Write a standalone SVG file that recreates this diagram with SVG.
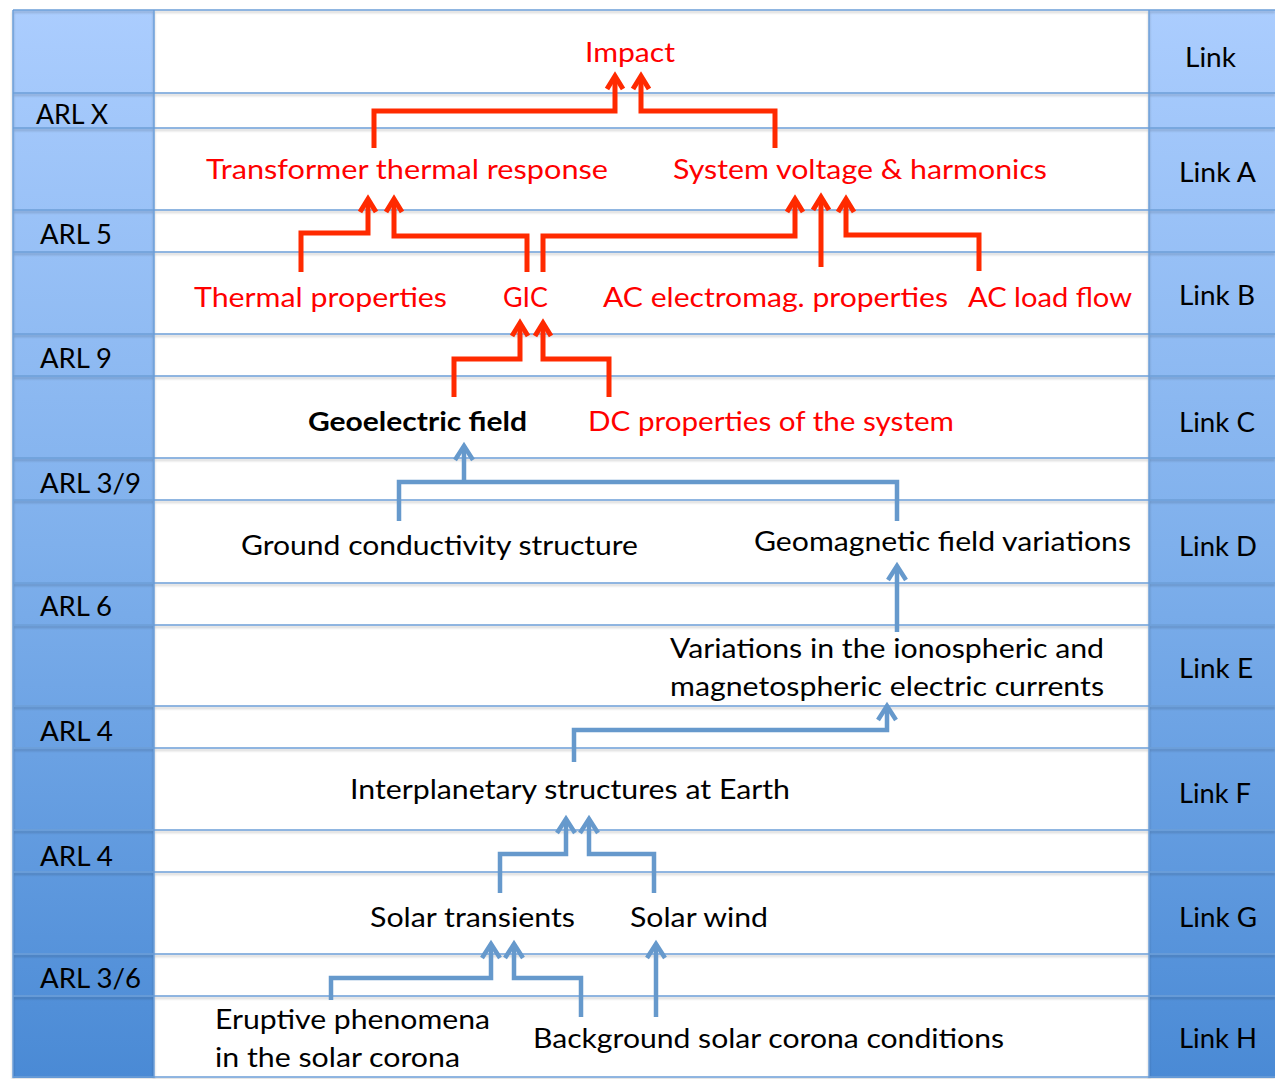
<svg xmlns="http://www.w3.org/2000/svg" width="1275" height="1079" viewBox="0 0 1275 1079">
<defs>
<linearGradient id="colgrad" x1="0" y1="0" x2="0" y2="1">
<stop offset="0" stop-color="#abcdfe"/>
<stop offset="0.5" stop-color="#7fb0ec"/>
<stop offset="1" stop-color="#4a8ad5"/>
</linearGradient>
<filter id="shadow" x="-5%" y="-5%" width="110%" height="110%">
<feDropShadow dx="0" dy="2" stdDeviation="1" flood-color="#000" flood-opacity="0.22"/>
</filter>
<marker id="arrR" viewBox="-18 -14 24 28" markerWidth="24" markerHeight="28" refX="0" refY="0" orient="auto" markerUnits="userSpaceOnUse">
<path d="M-13,-8 L0,0 L-13,8" fill="none" stroke="#ff2a00" stroke-width="5"/>
</marker>
<marker id="arrB" viewBox="-18 -14 24 28" markerWidth="24" markerHeight="28" refX="0" refY="0" orient="auto" markerUnits="userSpaceOnUse">
<path d="M-14,-9 L0,0 L-14,9" fill="none" stroke="#6699cc" stroke-width="4.5"/>
</marker>
</defs>
<style>
text{font-family:Lato,"Open Sans","Liberation Sans",sans-serif;font-size:27px;lengthAdjust:spacingAndGlyphs}
.k{fill:#000}
.r{fill:#ff0000}
.b{font-weight:bold}
.grid{stroke:#6e9fd8;stroke-width:1.5;fill:none}
.red{stroke:#ff2a00;stroke-width:5;fill:none;marker-end:url(#arrR)}
.redn{stroke:#ff2a00;stroke-width:5;fill:none}
.blue{stroke:#6699cc;stroke-width:4.5;fill:none;marker-end:url(#arrB)}
.bluen{stroke:#6699cc;stroke-width:4.5;fill:none}
</style>
<rect x="0" y="0" width="1275" height="1079" fill="#ffffff"/>
<g id="table">
<rect x="13" y="10" width="141" height="1068" fill="url(#colgrad)"/>
<rect x="1149" y="10" width="127" height="1068" fill="url(#colgrad)"/>
<g filter="url(#shadow)">
<path class="grid" d="M13,10H1275 M13,93H1275 M13,128H1275 M13,210H1275 M13,252H1275 M13,334H1275 M13,376H1275 M13,458H1275 M13,500H1275 M13,583H1275 M13,625H1275 M13,706H1275 M13,748H1275 M13,830H1275 M13,872H1275 M13,954H1275 M13,996H1275 M13,1077H1275"/>
<path class="grid" d="M13,10V1078 M154,10V1078 M1149,10V1078"/>
</g>
</g>
<g id="row-labels">
<text class="k" x="36" y="124" textLength="72" lengthAdjust="spacingAndGlyphs">ARL X</text>
<text class="k" x="40" y="244" textLength="72" lengthAdjust="spacingAndGlyphs">ARL 5</text>
<text class="k" x="40" y="368" textLength="72" lengthAdjust="spacingAndGlyphs">ARL 9</text>
<text class="k" x="40" y="493" textLength="101" lengthAdjust="spacingAndGlyphs">ARL 3/9</text>
<text class="k" x="40" y="616" textLength="72" lengthAdjust="spacingAndGlyphs">ARL 6</text>
<text class="k" x="40" y="741" textLength="73" lengthAdjust="spacingAndGlyphs">ARL 4</text>
<text class="k" x="40" y="866" textLength="73" lengthAdjust="spacingAndGlyphs">ARL 4</text>
<text class="k" x="40" y="988" textLength="101" lengthAdjust="spacingAndGlyphs">ARL 3/6</text>
</g>
<g id="link-labels">
<text class="k" x="1185" y="67" textLength="51" lengthAdjust="spacingAndGlyphs">Link</text>
<text class="k" x="1179" y="182" textLength="77" lengthAdjust="spacingAndGlyphs">Link A</text>
<text class="k" x="1179" y="305" textLength="76" lengthAdjust="spacingAndGlyphs">Link B</text>
<text class="k" x="1179" y="432" textLength="76" lengthAdjust="spacingAndGlyphs">Link C</text>
<text class="k" x="1179" y="556" textLength="78" lengthAdjust="spacingAndGlyphs">Link D</text>
<text class="k" x="1179" y="678" textLength="74" lengthAdjust="spacingAndGlyphs">Link E</text>
<text class="k" x="1179" y="803" textLength="72" lengthAdjust="spacingAndGlyphs">Link F</text>
<text class="k" x="1179" y="927" textLength="78" lengthAdjust="spacingAndGlyphs">Link G</text>
<text class="k" x="1179" y="1048" textLength="78" lengthAdjust="spacingAndGlyphs">Link H</text>
</g>
<g id="connectors">
<path class="red" d="M374,148V111H615V76"/>
<path class="red" d="M775,148V111H641V76"/>
<path class="red" d="M301,272V233H368V199"/>
<path class="red" d="M527,272V236H394V199"/>
<path class="red" d="M543,272V236H795V199"/>
<path class="red" d="M821,267V197"/>
<path class="red" d="M979,271V235H846V199"/>
<path class="red" d="M454,397V359H520V323"/>
<path class="red" d="M609,397V359H543V323"/>
<path class="bluen" d="M399,521V482H897V521"/>
<path class="blue" d="M464,482V446"/>
<path class="blue" d="M897,632V566"/>
<path class="blue" d="M574,762V730H887V706"/>
<path class="blue" d="M500,893V854H566V819"/>
<path class="blue" d="M654,893V854H589V819"/>
<path class="blue" d="M331,1000V978H491V944"/>
<path class="blue" d="M581,1017V978H514V944"/>
<path class="blue" d="M656,1017V944"/>
</g>
<g id="node-impact"><text class="r" x="585" y="62" textLength="90" lengthAdjust="spacingAndGlyphs">Impact</text></g>
<g id="node-transformer"><text class="r" x="206" y="179" textLength="402" lengthAdjust="spacingAndGlyphs">Transformer thermal response</text></g>
<g id="node-voltage"><text class="r" x="673" y="179" textLength="374" lengthAdjust="spacingAndGlyphs">System voltage &amp; harmonics</text></g>
<g id="node-thermal"><text class="r" x="194" y="307" textLength="253" lengthAdjust="spacingAndGlyphs">Thermal properties</text></g>
<g id="node-gic"><text class="r" x="503" y="307" textLength="45" lengthAdjust="spacingAndGlyphs">GIC</text></g>
<g id="node-acem"><text class="r" x="603" y="307" textLength="345" lengthAdjust="spacingAndGlyphs">AC electromag. properties</text></g>
<g id="node-acload"><text class="r" x="968" y="307" textLength="164" lengthAdjust="spacingAndGlyphs">AC load flow</text></g>
<g id="node-geoelectric"><text class="k b" x="308" y="431" textLength="219" lengthAdjust="spacingAndGlyphs">Geoelectric field</text></g>
<g id="node-dc"><text class="r" x="588" y="431" textLength="366" lengthAdjust="spacingAndGlyphs">DC properties of the system</text></g>
<g id="node-ground"><text class="k" x="241" y="555" textLength="397" lengthAdjust="spacingAndGlyphs">Ground conductivity structure</text></g>
<g id="node-geomagnetic"><text class="k" x="754" y="551" textLength="377" lengthAdjust="spacingAndGlyphs">Geomagnetic field variations</text></g>
<g id="node-variations"><text class="k" x="670" y="658" textLength="434" lengthAdjust="spacingAndGlyphs">Variations in the ionospheric and</text><text class="k" x="670" y="696" textLength="434" lengthAdjust="spacingAndGlyphs">magnetospheric electric currents</text></g>
<g id="node-interplanetary"><text class="k" x="350" y="799" textLength="440" lengthAdjust="spacingAndGlyphs">Interplanetary structures at Earth</text></g>
<g id="node-transients"><text class="k" x="370" y="927" textLength="205" lengthAdjust="spacingAndGlyphs">Solar transients</text></g>
<g id="node-wind"><text class="k" x="630" y="927" textLength="138" lengthAdjust="spacingAndGlyphs">Solar wind</text></g>
<g id="node-eruptive"><text class="k" x="215" y="1029" textLength="275" lengthAdjust="spacingAndGlyphs">Eruptive phenomena</text><text class="k" x="215" y="1067" textLength="245" lengthAdjust="spacingAndGlyphs">in the solar corona</text></g>
<g id="node-background"><text class="k" x="533" y="1048" textLength="471" lengthAdjust="spacingAndGlyphs">Background solar corona conditions</text></g>
</svg>
